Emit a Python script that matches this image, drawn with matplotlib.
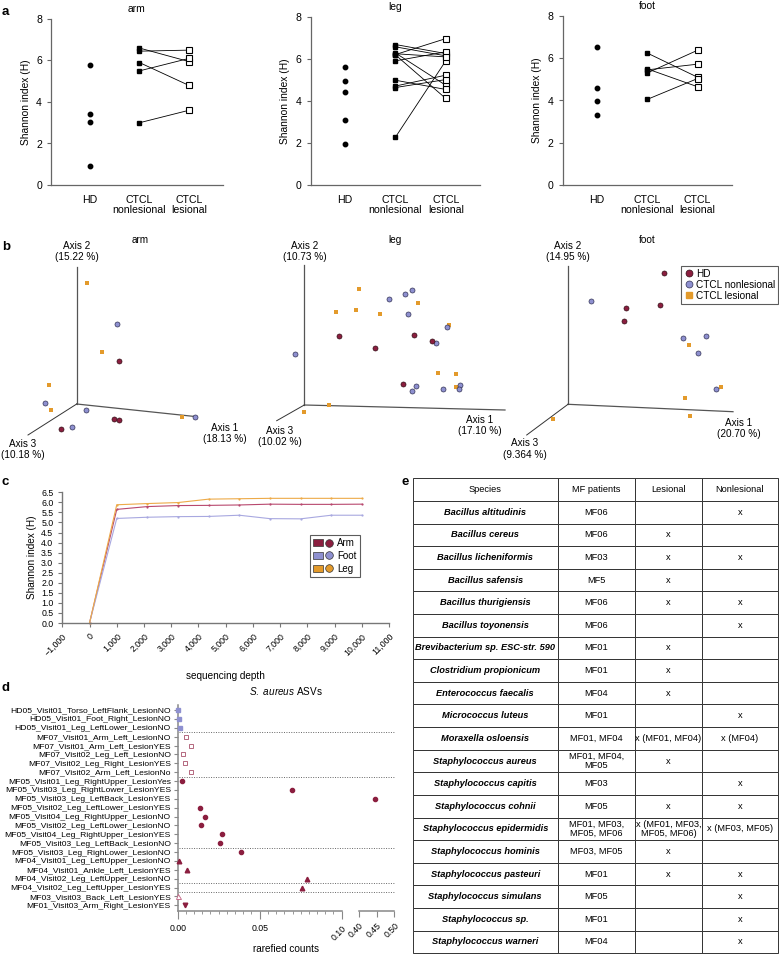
import numpy as np
import matplotlib
matplotlib.use('Agg')
import matplotlib.pyplot as plt
from matplotlib.lines import Line2D
from matplotlib.patches import Rectangle
from matplotlib.legend_handler import HandlerTuple
import matplotlib.transforms as mtrans

plt.rcParams['font.family'] = ['Liberation Sans', 'DejaVu Sans']
plt.rcParams['mathtext.fontset'] = 'custom'
plt.rcParams['mathtext.it'] = 'Liberation Sans:italic'
plt.rcParams['mathtext.rm'] = 'Liberation Sans'

# ---------------- data ----------------
# a: Shannon index per site
groups_a = ['HD', 'CTCL\nnonlesional', 'CTCL\nlesional']
arm_hd = [5.8, 3.4, 3.05, 0.9]
arm_nonles = [6.6, 6.45, 5.9, 5.5, 3.0]
arm_les = [5.95, 6.5, 4.8, 6.1, 3.6]
leg_hd = [5.6, 4.95, 4.45, 3.1, 1.95]
leg_nonles = [6.69, 6.58, 6.29, 6.21, 6.2, 5.91, 4.99, 4.71, 4.64, 2.27, 6.25]
leg_les = [6.26, 6.15, 4.75, 6.97, 4.12, 6.34, 4.55, 5.23, 5.02, 5.91, 6.1]
foot_hd = [6.54, 4.57, 3.97, 3.31]
foot_nonles = [6.25, 5.5, 5.3, 5.45, 4.05]
foot_les = [5.1, 4.65, 6.38, 5.72, 5.04]

# b: PCoA points, projected screen coordinates (relative to axes origin)
arm_pc_hd = [(42.6, 43), (-15.7, -24.7), (37.3, -15.3), (42.3, -16)]
arm_pc_nonles = [(40.6, 80.3), (-31.7, 0.7), (9.3, -6.3), (-4.7, -22.7), (118.3, -12.7)]
arm_pc_les = [(10.6, 121.3), (25, 51.7), (-27.7, 19), (-25.7, -6), (105, -12.7)]
leg_pc_hd = [(34.7, 69), (109.4, 69.7), (70.7, 57), (127.4, 64.3), (98.7, 21.3)]
leg_pc_nonles = [(107.4, 115), (101, 110.7), (84.4, 106.3), (104, 91), (143, 78), (132, 62.3),
                 (-9.6, 51), (111.4, 19.3), (107.4, 14.3), (139, 16), (155.4, 19.7), (154.7, 16)]
leg_pc_les = [(54.7, 116), (31.4, 93), (52, 95), (75.7, 91), (114, 102.3), (145, 79.7),
              (133.7, 32), (151.4, 30.7), (152, 18), (24.4, 0.3), (0, -7)]
foot_pc_hd = [(96, 131.3), (58.3, 96), (92, 99.3), (56, 83.6)]
foot_pc_nonles = [(23, 103), (114.7, 66.6), (138.3, 68.6), (130.3, 51.6), (148, 15)]
foot_pc_les = [(121.3, 59.6), (152.7, 17.3), (116.7, 6.3), (122, -11.7), (-15, -14.4)]
axis_pct = {'arm': ['18.13', '15.22', '10.18'],
            'leg': ['17.10', '10.73', '10.02'],
            'foot': ['20.70', '14.95', '9.364']}

# c: rarefaction curves
depth = [0, 1000, 2125, 3250, 4375, 5500, 6625, 7750, 8875, 10000]
rare_arm = [0, 5.65, 5.79, 5.84, 5.85, 5.87, 5.91, 5.90, 5.90, 5.91]
rare_foot = [0, 5.20, 5.26, 5.29, 5.30, 5.36, 5.19, 5.18, 5.36, 5.36]
rare_leg = [0, 5.88, 5.94, 5.99, 6.16, 6.18, 6.20, 6.20, 6.20, 6.20]

# d: S. aureus ASVs
samples = ['HD05_Visit01_Torso_LeftFlank_LesionNO', 'HD05_Visit01_Foot_Right_LesionNO',
           'HD05_Visit01_Leg_LeftLower_LesionNO', 'MF07_Visit01_Arm_Left_LesionNO',
           'MF07_Visit01_Arm_Left_LesionYES', 'MF07_Visit02_Leg_Left_LesionNO',
           'MF07_Visit02_Leg_Right_LesionYES', 'MF07_Visit02_Arm_Left_LesionNo',
           'MF05_Visit01_Leg_RightUpper_LesionYes', 'MF05_Visit03_Leg_RightLower_LesionYES',
           'MF05_Visit03_Leg_LeftBack_LesionYES', 'MF05_Visit02_Leg_LeftLower_LesionYES',
           'MF05_Visit04_Leg_RightUpper_LesionNO', 'MF05_Visit02_Leg_LeftLower_LesionNO',
           'MF05_Visit04_Leg_RightUpper_LesionYES', 'MF05_Visit03_Leg_LeftBack_LesionNO',
           'MF05_Visit03_Leg_RighLower_LesionNO', 'MF04_Visit01_Leg_LeftUpper_LesionNO',
           'MF04_Visit01_Ankle_Left_LesionYES', 'MF04_Visit02_Leg_LeftUpper_LesionNO',
           'MF04_Visit02_Leg_LeftUpper_LesionYES', 'MF03_Visit03_Back_Left_LesionYES',
           'MF01_Visit03_Arm_Right_LesionYES']
counts = [0.0, 0.0008, 0.0014, 0.0049, 0.0083, 0.0033, 0.0045, 0.0079,
          0.0024, 0.0697, 0.445, 0.0136, 0.0165, 0.014, 0.0272, 0.026, 0.0386,
          0.0006, 0.0057, 0.0787, 0.0756, 0.0004, 0.0045]
patient = ['HD05'] * 3 + ['MF07'] * 5 + ['MF05'] * 9 + ['MF04'] * 4 + ['MF03', 'MF01']

# e: table
species = ['Bacillus altitudinis', 'Bacillus cereus', 'Bacillus licheniformis', 'Bacillus safensis',
           'Bacillus thurigiensis', 'Bacillus toyonensis', 'Brevibacterium sp. ESC-str. 590',
           'Clostridium propionicum', 'Enterococcus faecalis', 'Micrococcus luteus',
           'Moraxella osloensis', 'Staphylococcus aureus', 'Staphylococcus capitis',
           'Staphylococcus cohnii', 'Staphylococcus epidermidis', 'Staphylococcus hominis',
           'Staphylococcus pasteuri', 'Staphylococcus simulans', 'Staphylococcus sp.',
           'Staphylococcus warneri']
mf_patients = ['MF06', 'MF06', 'MF03', 'MF5', 'MF06', 'MF06', 'MF01', 'MF01', 'MF04', 'MF01',
               'MF01, MF04', 'MF01, MF04,\nMF05', 'MF03', 'MF05', 'MF01, MF03,\nMF05, MF06',
               'MF03, MF05', 'MF01', 'MF05', 'MF01', 'MF04']
lesional = ['', 'x', 'x', 'x', 'x', '', 'x', 'x', 'x', '', 'x (MF01, MF04)', 'x', '', 'x',
            'x (MF01, MF03,\nMF05, MF06)', 'x', 'x', '', '', '']
nonlesional = ['x', '', 'x', '', 'x', 'x', '', '', '', 'x', 'x (MF04)', '', 'x', 'x',
               'x (MF03, MF05)', '', 'x', 'x', 'x', 'x']

# ---------------- figure ----------------
W, H = 779, 955
fig = plt.figure(figsize=(W / 100, H / 100), dpi=100)


def px_axes(x0, y0, x1, y1):
    return fig.add_axes([x0 / W, 1 - y1 / H, (x1 - x0) / W, (y1 - y0) / H])


maroon = '#8B1E3F'
lav = '#8E90D0'
orange = '#E39A2B'
spine_c = '#666666'

for lab, (x, y) in zip('abcde', [(2, 12), (2, 247), (2, 482), (2, 688), (402, 482)]):
    fig.text(x / W, 1 - y / H, lab, fontsize=9.5, fontweight='bold', va='center', ha='left')

# ---- panel a ----
a_boxes = [(51, 19, 223, 185, -0.79, 2.69), (310.7, 17, 480, 185, -0.68, 2.68),
           (562.7, 16, 732, 185, -0.67, 2.68)]
a_data = [('arm', arm_hd, arm_nonles, arm_les), ('leg', leg_hd, leg_nonles, leg_les),
          ('foot', foot_hd, foot_nonles, foot_les)]
for (x0, y0, x1, y1, xl, xr), (name, hd, nl, ls) in zip(a_boxes, a_data):
    ax = px_axes(x0, y0, x1, y1)
    ax.set_xlim(xl, xr)
    ax.set_ylim(0, 8)
    for s in ['top', 'right']:
        ax.spines[s].set_visible(False)
    for s in ['left', 'bottom']:
        ax.spines[s].set_color(spine_c)
        ax.spines[s].set_linewidth(0.9)
    ax.plot([0] * len(hd), hd, 'o', color='black', ms=3.2, clip_on=False)
    for a, b in zip(nl, ls):
        ax.plot([1, 2], [a, b], '-', color='black', lw=0.6)
    ax.plot([1] * len(nl), nl, 's', color='black', ms=3.2, clip_on=False)
    ax.plot([2] * len(ls), ls, 's', mfc='white', mec='black', mew=0.8, ms=4, clip_on=False)
    ax.set_yticks([0, 2, 4, 6, 8])
    ax.set_xticks([0, 1, 2])
    ax.set_xticklabels(groups_a, fontsize=7.6, linespacing=1.05)
    ax.tick_params(axis='x', length=0, pad=7)
    ax.tick_params(axis='y', labelsize=7.6, length=3, width=0.8, color=spine_c)
    ax.set_ylabel('Shannon index (H)', fontsize=7.4)
    ax.set_title(name, fontsize=7.4, pad=5)

# ---- panel b ----
b_specs = [
    ('arm', (0, 228, 260, 460), (76.7, 404), arm_pc_hd, arm_pc_nonles, arm_pc_les,
     [(120, -12.7), (0, 137.3), (-48.7, -31)], [(148.3, -29.5), (0.3, 142), (-53.7, -45.5)], (63.3, 164)),
    ('leg', (260, 228, 520, 460), (304.3, 405), leg_pc_hd, leg_pc_nonles, leg_pc_les,
     [(200.7, -5), (0, 140), (-27.6, -15.7)], [(175.7, -20.5), (0.7, 143), (-24.3, -31.7)], (90.7, 165)),
    ('foot', (520, 228, 779, 460), (568, 404.3), foot_pc_hd, foot_pc_nonles, foot_pc_les,
     [(165, -7.4), (0, 138.3), (-41.3, -30.7)], [(171, -24.2), (0, 142), (-43, -44.7)], (79.7, 164.3)),
]
for name, (bx0, by0, bx1, by1), (ox, oy), hd, nl, ls, ends, labpos, tpos in b_specs:
    ax = px_axes(bx0, by0, bx1, by1)
    ax.set_xlim(bx0 - ox, bx1 - ox)
    ax.set_ylim(oy - by1, oy - by0)
    ax.axis('off')
    for i, (ex, ey) in enumerate(ends):
        ax.plot([0, ex], [0, ey], '-', color='#555555' if i < 2 else '#333333',
                lw=0.9 if i < 2 else 0.7, clip_on=False)
    pct = axis_pct[name]
    for i, (lx, ly) in enumerate(labpos):
        txt = 'Axis %d\n(%s %%)' % ([1, 2, 3][i], pct[i])
        ax.text(lx, ly, txt, fontsize=7.2, ha='center', va='bottom' if i == 1 else 'center',
                linespacing=1.15, clip_on=False)
    ax.text(tpos[0], tpos[1], name, fontsize=7.2, ha='center', va='center')
    ax.plot([p[0] for p in ls], [p[1] for p in ls], 's', color=orange, ms=3.2, mew=0, clip_on=False)
    ax.plot([p[0] for p in nl], [p[1] for p in nl], 'o', mfc=lav, mec='#333355', mew=0.5, ms=3.6,
            clip_on=False, label='CTCL nonlesional')
    ax.plot([p[0] for p in hd], [p[1] for p in hd], 'o', mfc=maroon, mec='#331018', mew=0.5, ms=3.6,
            clip_on=False, label='HD')
    if name == 'foot':
        hh = [Line2D([], [], marker='o', ls='', mfc=maroon, mec='#331018', mew=0.5, ms=5),
              Line2D([], [], marker='o', ls='', mfc=lav, mec='#333355', mew=0.5, ms=5),
              Line2D([], [], marker='s', ls='', mfc=orange, mec=orange, ms=4.5)]
        leg = fig.legend(hh, ['HD', 'CTCL nonlesional', 'CTCL lesional'], fontsize=7.2,
                         loc='upper right', bbox_to_anchor=(778 / W, 1 - 266 / H), frameon=True,
                         fancybox=False, edgecolor='#333333', borderpad=0.3, labelspacing=0.1,
                         handletextpad=0.2, handlelength=1.0, borderaxespad=0)
        leg.get_frame().set_linewidth(0.8)

# ---- panel c ----
axc = px_axes(62.3, 492.3, 389, 623)
axc.set_xlim(-1000, 11000)
axc.set_ylim(0, 6.5)
for s in ['top', 'right']:
    axc.spines[s].set_visible(False)
for s in ['left', 'bottom']:
    axc.spines[s].set_color('#777777')
    axc.spines[s].set_linewidth(1.0)
c_series = [('Arm', rare_arm, '#B8486E', maroon), ('Foot', rare_foot, '#A8A8E0', lav),
            ('Leg', rare_leg, '#EDAA48', orange)]
for lab, vals, lc, hc in c_series:
    axc.plot(depth, vals, '-', color=lc, lw=0.8, marker='o', ms=1.6, mew=0, clip_on=False)
axc.set_yticks(np.arange(0, 6.51, 0.5))
axc.set_yticklabels(['%.1f' % v for v in np.arange(0, 6.51, 0.5)])
xt = np.arange(-1000, 11001, 1000)
axc.set_xticks(xt)
axc.set_xticklabels([('{:,}'.format(v)).replace('-', '\u2212') for v in xt], rotation=45,
                    ha='right', rotation_mode='anchor')
axc.tick_params(labelsize=6.3, length=3, width=0.8, color='#777777')
axc.set_ylabel('Shannon index (H)', fontsize=7.2, labelpad=3)
fig.text(225 / W, 1 - 676 / H, 'sequencing depth', fontsize=7.2, ha='center', va='center')
hh = [(Rectangle((0, 0), 1, 1, fc=hc, ec='#333333', lw=0.5),
       Line2D([], [], marker='o', ls='', mfc=hc, mec='#333333', mew=0.5, ms=5.5))
      for lab, vals, lc, hc in c_series]
legc = axc.legend(hh, [s[0] for s in c_series], handler_map={tuple: HandlerTuple(ndivide=None, pad=0.2)},
                  fontsize=7, loc='upper left', bbox_to_anchor=((310 - 62.3) / (389 - 62.3), (623 - 535) / (623 - 492.3)),
                  frameon=True, fancybox=False, edgecolor='#333333', borderpad=0.3, labelspacing=0.3,
                  handlelength=2.2, handletextpad=0.3, borderaxespad=0)
legc.get_frame().set_linewidth(0.8)

# ---- panel d ----
axd1 = px_axes(177.7, 705, 341.7, 910.7)
axd2 = px_axes(359, 705, 394.3, 910.7)
axd2.patch.set_visible(False)
nrow = len(samples)
for ax in (axd1, axd2):
    ax.set_ylim(22.6, -0.56)
    ax.spines['top'].set_visible(False)
    ax.spines['right'].set_visible(False)
    ax.spines['bottom'].set_color('#888888')
    ax.spines['bottom'].set_linewidth(1.1)
axd1.spines['left'].set_color('#888888')
axd1.spines['left'].set_linewidth(1.1)
axd2.spines['left'].set_visible(False)
axd1.set_xlim(0, 0.1)
axd2.set_xlim(0.4, 0.5)
axd1.set_yticks(range(nrow))
axd1.set_yticklabels(samples, fontsize=6.1)
axd1.tick_params(axis='y', length=3, width=0.8, color='#888888', pad=2)
axd2.set_yticks([])
axd1.set_xticks([0, 0.05, 0.1])
axd1.set_xticklabels(['0.00', '0.05', '0.10'], fontsize=6.3)
axd1.set_xticks(np.arange(0, 0.1001, 0.005), minor=True)
axd1.tick_params(axis='x', which='major', length=6, width=0.8, color='#888888')
axd1.tick_params(axis='x', which='minor', length=2, width=0.6, color='#888888')
t10 = axd1.get_xticklabels()[2]
t10.set_rotation(45)
t10.set_ha('right')
t10.set_rotation_mode('anchor')
axd2.set_xticks([0.4, 0.45, 0.5])
axd2.set_xticklabels(['0.40', '0.45', '0.50'], fontsize=6.3, rotation=45, ha='right',
                     rotation_mode='anchor')
axd2.tick_params(axis='x', length=4, width=0.8, color='#888888')

styles = {'HD05': dict(marker='s', mfc=lav, mec=lav, ms=3.2),
          'MF07': dict(marker='s', mfc='white', mec='#A8506A', mew=0.6, ms=3.4),
          'MF05': dict(marker='o', mfc=maroon, mec=maroon, ms=3),
          'MF04': dict(marker='^', mfc=maroon, mec=maroon, ms=3.3),
          'MF03': dict(marker='^', mfc='white', mec='#C06080', mew=0.6, ms=3.6),
          'MF01': dict(marker='v', mfc=maroon, mec=maroon, ms=3.3)}
for i, (v, p) in enumerate(zip(counts, patient)):
    ax = axd1 if v <= 0.1 else axd2
    ax.plot([v], [i], ls='', clip_on=False, zorder=5, **styles[p])

trans = mtrans.blended_transform_factory(axd1.transAxes, axd1.transData)
xr = (394.3 - 177.7) / (341.7 - 177.7)
for yb in [2.5, 7.5, 15.5, 19.5, 20.5]:
    axd1.plot([0.01, xr], [yb, yb], ls=(0, (1, 1.5)), color='#666666', lw=0.7,
              transform=trans, clip_on=False)
fig.text(286 / W, 1 - 691 / H, r'$\it{S.\ aureus}$ ASVs', fontsize=7.2, ha='center', va='center')
fig.text(286 / W, 1 - 949 / H, 'rarefied counts', fontsize=7.2, ha='center', va='center')

# ---- panel e ----
axe = px_axes(412.7, 478.3, 778.3, 953.3)
axe.axis('off')
cw = np.array([145, 77.6, 66.4, 76.6])
cells = [[s, m, l, n] for s, m, l, n in zip(species, mf_patients, lesional, nonlesional)]
tab = axe.table(cellText=cells, colLabels=['Species', 'MF patients', 'Lesional', 'Nonlesional'],
                cellLoc='center', colLoc='center', colWidths=list(cw / cw.sum()), bbox=[0, 0, 1, 1])
tab.auto_set_font_size(False)
tab.set_fontsize(6.7)
for (r, c), cell in tab.get_celld().items():
    cell.set_edgecolor('#333333')
    cell.set_linewidth(0.7)
    cell.PAD = 0.02
    cell.get_text().set_linespacing(1.0)
    if r > 0 and c == 0:
        cell.get_text().set_fontstyle('italic')
        cell.get_text().set_fontweight('bold')

fig.savefig('out.png', dpi=100)
